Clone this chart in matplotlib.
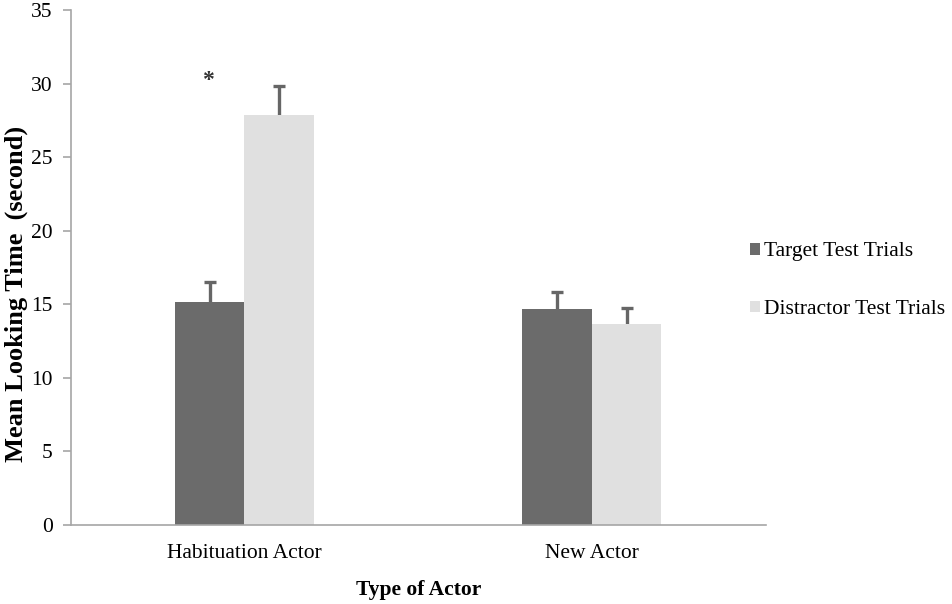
import matplotlib
matplotlib.use("Agg")
import matplotlib.pyplot as plt
import numpy as np

# Data
actors = ["Habituation Actor", "New Actor"]
target_mean = [15.2, 14.7]
target_se = [1.3, 1.15]
distractor_mean = [27.9, 13.7]
distractor_se = [1.95, 1.05]

plt.rcParams['font.family'] = ['Liberation Serif', 'DejaVu Serif']

fig = plt.figure(figsize=(9.52, 6.04), dpi=100)
ax = fig.add_axes([0.0743, 0.1308, 0.730, 0.852])

x = np.arange(len(actors))
w = 0.2
err_kw = dict(fmt='none', ecolor='#666666', elinewidth=2.4, capsize=4, capthick=2.4, zorder=1)

# error bars sit behind the bars so only the upper half shows
ax.errorbar(x - w / 2, target_mean, yerr=target_se, **err_kw)
ax.errorbar(x + w / 2, distractor_mean, yerr=distractor_se, **err_kw)
ax.bar(x - w / 2, target_mean, w, color='#6b6b6b', label='Target Test Trials', zorder=2)
ax.bar(x + w / 2, distractor_mean, w, color='#e0e0e0', label='Distractor Test Trials', zorder=2)

# significance marker
ax.text(-0.105, 30.2, '*', ha='center', va='center', fontsize=17, fontweight='bold',
        color='#333333')

ax.set_xlim(-0.5, 1.5)
ax.set_ylim(0, 35)
ax.set_yticks(range(0, 36, 5))
ax.set_xticks(x)
ax.set_xticklabels(actors)

for s in ['top', 'right']:
    ax.spines[s].set_visible(False)
for s in ['left', 'bottom']:
    ax.spines[s].set_color('#a6a6a6')
    ax.spines[s].set_linewidth(1.2)
ax.tick_params(axis='y', colors='#a6a6a6', labelcolor='black', labelsize=15.5,
               length=6, width=1.2, pad=7)
ax.tick_params(axis='x', length=0, labelsize=15.5, pad=14)

ax.set_ylabel('Mean Looking Time  (second)', fontsize=19, fontweight='bold')
ax.yaxis.set_label_coords(-0.062, 0.449)
ax.set_xlabel('Type of Actor', fontsize=15.5, fontweight='bold', labelpad=12)

fig.legend(loc='center left', bbox_to_anchor=(0.788, 0.535), frameon=False, fontsize=15.5,
           handlelength=0.45, handleheight=0.45, handletextpad=0.2, labelspacing=1.8,
           borderaxespad=0, borderpad=0)

fig.savefig('out.png', dpi=100)
